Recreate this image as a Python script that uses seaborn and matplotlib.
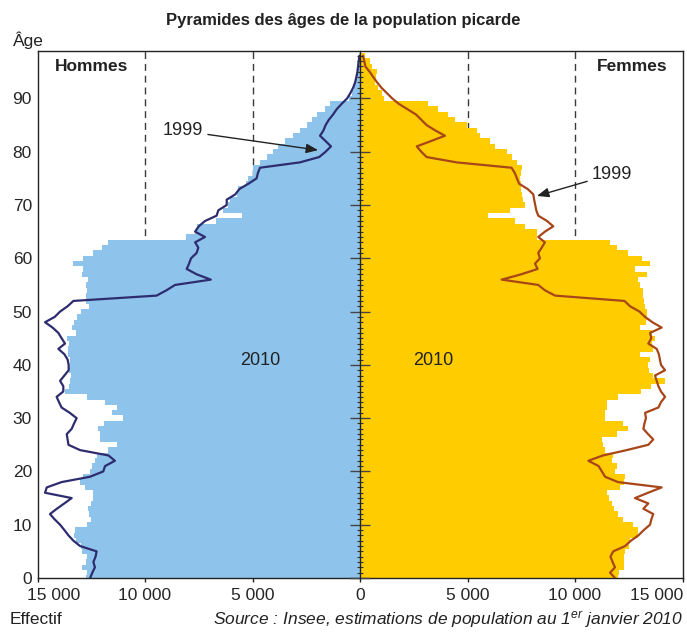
import matplotlib
matplotlib.use('Agg')
import matplotlib.pyplot as plt
import matplotlib.transforms as mtransforms
import pandas as pd
import seaborn as sns

# ---------------- data (thousands of persons) ----------------
ages = list(range(99))

men_2010 = [12.75, 12.7, 12.95, 12.75, 12.7, 12.94, 13.0, 13.2, 13.3, 13.26,
            12.71, 12.5, 12.6, 12.64, 12.5, 12.4, 12.4, 12.79, 13.02, 12.87,
            12.56, 12.48, 12.33, 12.25, 11.7, 11.32, 12.1, 12.1, 12.2, 11.9,
            11.0, 11.55, 11.3, 11.85, 12.7, 13.7, 13.55, 13.5, 13.45, 13.55,
            13.5, 13.5, 13.6, 13.6, 13.55, 13.64, 13.2, 13.41, 13.3, 13.18,
            13.0, 12.6, 12.74, 12.74, 12.71, 12.74, 12.64, 12.94, 12.9, 13.33,
            12.87, 12.4, 12.0, 11.7, 8.09, 7.67, 7.6, 6.7, 5.5, 6.36,
            6.15, 6.05, 5.7, 5.66, 5.3, 5.19, 5.0, 4.96, 4.65, 4.34,
            4.03, 3.8, 3.49, 3.1, 2.79, 2.48, 2.25, 2.02, 1.63, 1.4,
            0.5, 0.35, 0.3, 0.22, 0.17, 0.12, 0.08, 0.05, 0.03]

women_2010 = [12.0, 12.05, 12.3, 12.3, 12.3, 12.33, 12.5, 12.56, 12.95, 12.95,
              12.71, 12.25, 12.0, 11.8, 11.7, 11.6, 11.47, 12.09, 12.3, 12.33,
              11.85, 11.94, 11.7, 11.78, 11.4, 11.3, 11.24, 11.94, 12.48, 12.25,
              11.4, 11.4, 11.5, 11.5, 12.0, 13.05, 13.55, 14.19, 13.64, 13.45,
              13.41, 13.49, 13.0, 13.65, 13.6, 13.7, 13.6, 13.02, 13.3, 13.33,
              13.33, 13.25, 13.2, 13.18, 13.18, 13.0, 12.95, 13.33, 12.79, 13.49,
              13.1, 12.48, 11.94, 11.63, 8.22, 8.22, 7.67, 7.21, 5.97, 6.98,
              7.67, 7.6, 7.55, 7.5, 7.5, 7.45, 7.5, 7.52, 7.29, 7.05,
              6.82, 6.28, 6.05, 5.58, 5.43, 4.96, 4.42, 4.11, 3.64, 3.18,
              1.1, 1.0, 0.85, 0.72, 0.75, 0.8, 0.55, 0.45, 0.25]

men_1999 = [12.55, 12.45, 12.33, 12.4, 12.3, 12.25, 13.02, 13.33, 13.56, 13.75,
            13.95, 14.2, 14.42, 14.1, 13.75, 13.41, 14.65, 14.57, 13.88, 12.56,
            11.94, 11.86, 11.4, 11.7, 13.02, 13.56, 13.6, 13.64, 13.41, 13.3,
            13.18, 13.5, 13.88, 14.0, 14.11, 13.8, 13.8, 13.95, 13.75, 13.55,
            13.55, 13.6, 13.75, 14.03, 13.72, 13.88, 14.03, 14.3, 14.65, 14.2,
            13.95, 13.6, 13.33, 9.46, 9.0, 8.6, 6.94, 7.6, 8.06, 7.95,
            7.86, 7.6, 7.52, 7.67, 7.21, 7.67, 7.5, 7.21, 6.67, 6.59,
            6.2, 6.2, 5.8, 5.61, 5.19, 4.81, 4.75, 4.65, 2.8, 1.9,
            1.6, 1.35, 1.6, 1.86, 1.7, 1.6, 1.45, 1.25, 1.08, 0.85,
            0.6, 0.45, 0.32, 0.23, 0.17, 0.12, 0.09, 0.06, 0.03]

women_1999 = [11.86, 11.63, 11.86, 11.75, 11.65, 11.78, 12.33, 12.6, 12.95, 13.2,
              13.49, 13.55, 13.64, 13.18, 13.41, 12.79, 13.4, 14.03, 12.0, 11.4,
              11.25, 11.1, 10.62, 11.3, 12.4, 13.41, 13.64, 13.4, 13.18, 13.23,
              13.3, 13.26, 13.88, 14.0, 14.19, 14.0, 13.88, 13.8, 13.72, 14.19,
              14.0, 13.95, 13.9, 13.8, 13.41, 13.55, 13.49, 14.03, 13.6, 13.26,
              13.0, 12.56, 12.3, 9.07, 8.6, 8.29, 6.59, 7.5, 8.26, 8.14,
              8.37, 8.29, 8.45, 8.6, 8.29, 8.6, 8.99, 8.7, 8.29, 8.2,
              8.15, 8.1, 8.06, 7.8, 7.4, 7.3, 7.2, 7.05, 4.5, 3.1,
              2.85, 2.64, 3.3, 3.95, 3.5, 3.1, 2.85, 2.6, 2.2, 1.8,
              1.5, 1.25, 1.0, 0.8, 0.62, 0.45, 0.25, 0.2, 0.14]

x_ticks = [-15000, -10000, -5000, 0, 5000, 10000, 15000]
x_tick_labels = ['15 000', '10 000', '5 000', '0', '5 000', '10 000', '15 000']
y_ticks = list(range(0, 100, 10))

SCALE = 1000
BLUE = '#8EC4EB'
YELLOW = '#FFCC00'
NAVY = '#2E2C6E'
BROWN = '#A8461A'

# ---------------- style ----------------
sns.set_style('ticks')
plt.rcParams['font.family'] = ['Liberation Sans', 'DejaVu Sans']
plt.rcParams['mathtext.fontset'] = 'custom'
plt.rcParams['mathtext.rm'] = 'Liberation Sans:italic'
plt.rcParams['mathtext.it'] = 'Liberation Sans:italic'

df = pd.DataFrame({
    'age': ages,
    'hommes': [-v * SCALE for v in men_2010],
    'femmes': [v * SCALE for v in women_2010],
    'hommes99': [-v * SCALE for v in men_1999],
    'femmes99': [v * SCALE for v in women_1999],
})

W, H = 687, 633
fig = plt.figure(figsize=(W / 100, H / 100), dpi=100)
ax = fig.add_axes([37.5 / W, 55 / H, 645 / W, 527.5 / H])

# dashed reference lines behind bars
for xv in [-10000, -5000, 5000, 10000]:
    ax.axvline(xv, color='#3a3a3a', lw=1.0, ls=(0, (5, 3.5)), zorder=0.5)

sns.barplot(data=df, x='hommes', y='age', orient='h', native_scale=True,
            color=BLUE, saturation=1, width=1, linewidth=0, errorbar=None,
            ax=ax, zorder=1)
sns.barplot(data=df, x='femmes', y='age', orient='h', native_scale=True,
            color=YELLOW, saturation=1, width=1, linewidth=0, errorbar=None,
            ax=ax, zorder=1)

sns.lineplot(data=df, x='hommes99', y='age', orient='y', estimator=None,
             sort=False, color=NAVY, lw=1.6, ax=ax, zorder=3)
sns.lineplot(data=df, x='femmes99', y='age', orient='y', estimator=None,
             sort=False, color=BROWN, lw=1.6, ax=ax, zorder=3)

ax.set_xlim(-15000, 15000)
ax.set_ylim(0, 99)
ax.set_xlabel('')
ax.set_ylabel('')

ax.set_xticks(x_ticks)
ax.set_xticklabels(x_tick_labels)
ax.set_yticks(y_ticks)
ax.set_yticklabels([str(v) for v in y_ticks])
ax.tick_params(axis='x', direction='out', length=3, width=1, pad=4,
               labelsize=12.5, color='#222')
ax.tick_params(axis='y', length=0, pad=4, labelsize=12.5)
for s in ax.spines.values():
    s.set_visible(True)
    s.set_color('#222')
    s.set_linewidth(1.0)

# shift extreme x tick labels inward like the reference
labs = ax.get_xticklabels()
offs = {0: 16.5, len(labs) - 1: -25.5}
for i, dx in offs.items():
    labs[i].set_transform(labs[i].get_transform() +
                          mtransforms.ScaledTranslation(dx / 100, 0, fig.dpi_scale_trans))

# central age axis with ticks
sec = ax.secondary_yaxis(0.5)
sec.set_zorder(5)
sec.set_yticks(y_ticks)
sec.set_yticks(ages, minor=True)
sec.tick_params(which='major', direction='inout', length=14, width=1.0,
                color='#444', labelleft=False, labelright=False)
sec.tick_params(which='minor', direction='inout', length=4.5, width=0.8,
                color='#333')
for s in sec.spines.values():
    s.set_color('#222')
    s.set_linewidth(1.0)

# labels inside the plot
ax.text(0.0845, 0.969, 'Hommes', transform=ax.transAxes, ha='center',
        va='center', fontsize=12.5, fontweight='bold', color='#222')
ax.text(0.9217, 0.970, 'Femmes', transform=ax.transAxes, ha='center',
        va='center', fontsize=12.5, fontweight='bold', color='#222')
ax.text(-4650, 40.8, '2010', ha='center', va='center', fontsize=13, color='#222')
ax.text(3400, 40.8, '2010', ha='center', va='center', fontsize=13, color='#222')

arrow = dict(arrowstyle='-|>,head_length=0.55,head_width=0.22', color='#222',
             lw=1.0, shrinkA=1, shrinkB=0)
ax.annotate('1999', xy=(-1950, 80.3), xytext=(-8230, 83.9), ha='center',
            va='center', fontsize=13, color='#222', arrowprops=arrow)
ax.annotate('1999', xy=(8230, 71.7), xytext=(11720, 75.8), ha='center',
            va='center', fontsize=13, color='#222', arrowprops=arrow)

# figure texts
fig.text(343 / W, 1 - 20 / H, 'Pyramides des âges de la population picarde',
         ha='center', va='center', fontsize=12, fontweight='bold', color='#222')
fig.text(13 / W, 1 - 40 / H, 'Âge', ha='left', va='center', fontsize=12.5,
         color='#222')
fig.text(10 / W, 1 - 619.5 / H, 'Effectif', ha='left', va='center',
         fontsize=12.5, color='#222')
fig.text(683 / W, 1 - 619.5 / H,
         'Source : Insee, estimations de population au $1^{er}$ janvier 2010',
         ha='right', va='center', fontsize=12.5, style='italic', color='#222')

fig.savefig('out.png', dpi=100)
